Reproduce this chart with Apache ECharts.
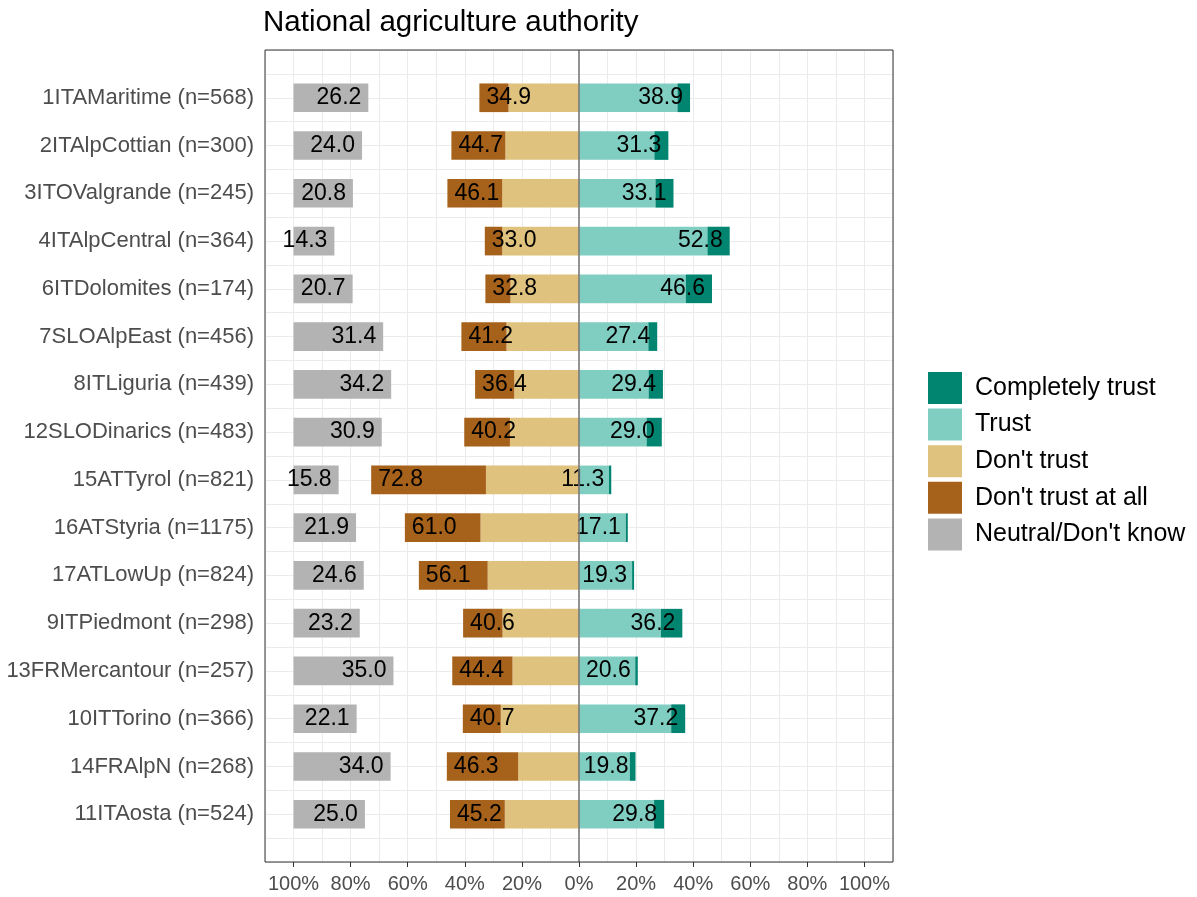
<!DOCTYPE html>
<html>
<head>
<meta charset="utf-8">
<script src="https://cdn.jsdelivr.net/npm/echarts@6/dist/echarts.min.js"></script>
<style>
  html, body { margin: 0; padding: 0; background: #ffffff; }
  #chart { width: 1197px; height: 897px; }
</style>
</head>
<body>
<div id="chart"></div>
<script>
// Regions, top to bottom
const regions = [
  '1ITAMaritime (n=568)', '2ITAlpCottian (n=300)', '3ITOValgrande (n=245)',
  '4ITAlpCentral (n=364)', '6ITDolomites (n=174)', '7SLOAlpEast (n=456)',
  '8ITLiguria (n=439)', '12SLODinarics (n=483)', '15ATTyrol (n=821)',
  '16ATStyria (n=1175)', '17ATLowUp (n=824)', '9ITPiedmont (n=298)',
  '13FRMercantour (n=257)', '10ITTorino (n=366)', '14FRAlpN (n=268)',
  '11ITAosta (n=524)'
];

// Shares in percent per answer category
const completelyTrust = [4.4, 4.9, 6.3, 7.8, 9.2, 3.1, 5.0, 5.3, 0.8, 0.7, 0.7, 7.5, 0.9, 4.9, 2.0, 3.5];
const trust           = [34.5, 26.4, 26.8, 45.0, 37.4, 24.3, 24.4, 23.7, 10.5, 16.4, 18.6, 28.7, 19.7, 32.3, 17.8, 26.3];
const dontTrust       = [24.7, 25.8, 26.9, 26.9, 24.0, 25.4, 22.7, 24.2, 32.6, 34.5, 32.0, 26.8, 23.3, 27.4, 21.3, 26.0];
const dontTrustAtAll  = [10.2, 18.9, 19.2, 6.1, 8.8, 15.8, 13.7, 16.0, 40.2, 26.5, 24.1, 13.8, 21.1, 13.3, 25.0, 19.2];
const neutral         = [26.2, 24.0, 20.8, 14.3, 20.7, 31.4, 34.2, 30.9, 15.8, 21.9, 24.6, 23.2, 35.0, 22.1, 34.0, 25.0];

// Axis ticks (percent, negatives shown without sign)
const xTicks = [-100, -80, -60, -40, -20, 0, 20, 40, 60, 80, 100];

const NEUTRAL_START = -100;
const FONT = "'Liberation Sans', Arial, Helvetica, sans-serif";

const fmt = v => (Math.round(v * 10) / 10).toFixed(1);
const posTotal = trust.map((v, i) => v + completelyTrust[i]);
const negTotal = dontTrust.map((v, i) => v + dontTrustAtAll[i]);

// one empty slot above and below the regions gives the panel its padding
const yCats = [' '].concat(regions, ['  ']);
const pad = arr => [null].concat(arr, [null]);
const padIdx = i => i - 1;

const labelStyle = {
  show: true,
  fontFamily: FONT,
  fontSize: 23,
  color: '#000000',
  distance: 7
};

const chart = echarts.init(document.getElementById('chart'), null, { renderer: 'canvas' });

chart.setOption({
  animation: false,
  backgroundColor: '#ffffff',
  textStyle: { fontFamily: FONT },
  title: {
    text: 'National agriculture authority',
    left: 263,
    top: 8,
    padding: 0,
    textStyle: { fontFamily: FONT, fontSize: 29.5, fontWeight: 'normal', color: '#000000' }
  },
  legend: {
    data: ['Completely trust', 'Trust', "Don't trust", "Don't trust at all", "Neutral/Don't know"],
    orient: 'vertical',
    left: 928,
    top: 372,
    padding: 0,
    itemWidth: 34,
    itemHeight: 32,
    itemGap: 4.6,
    icon: 'rect',
    selectedMode: false,
    textStyle: { fontFamily: FONT, fontSize: 25, color: '#000000', padding: [0, 0, 0, 8] }
  },
  grid: {
    left: 265,
    right: 304,
    top: 50,
    bottom: 35,
    containLabel: false,
    outerBoundsMode: 'none',
    show: true,
    z: 10,
    backgroundColor: 'transparent',
    borderColor: '#333333',
    borderWidth: 1
  },
  xAxis: [
    {
      type: 'value',
      min: -110,
      max: 110,
      interval: 10,
      axisLine: { show: false },
      axisTick: { show: false },
      axisLabel: { show: false },
      splitLine: { show: true, lineStyle: { color: '#ebebeb', width: 1 } }
    },
    {
      type: 'value',
      min: -110,
      max: 110,
      position: 'bottom',
      axisLine: { show: false },
      splitLine: { show: false },
      axisTick: {
        show: true,
        customValues: xTicks,
        length: 5,
        lineStyle: { color: '#333333', width: 1 }
      },
      axisLabel: {
        customValues: xTicks,
        formatter: v => Math.abs(v) + '%',
        fontFamily: FONT,
        fontSize: 20,
        color: '#4d4d4d',
        margin: 12
      }
    }
  ],
  yAxis: [
    {
      type: 'category',
      inverse: true,
      boundaryGap: false,
      data: yCats,
      axisLine: { show: false },
      axisTick: {
        show: true,
        length: 5,
        interval: (idx, val) => val.trim() !== '',
        lineStyle: { color: '#333333', width: 1 }
      },
      axisLabel: {
        interval: 0,
        fontFamily: FONT,
        fontSize: 22,
        color: '#4d4d4d',
        margin: 11
      },
      splitLine: { show: false }
    },
    {
      type: 'value',
      inverse: true,
      min: 0,
      max: 17,
      interval: 0.5,
      axisLine: { show: false },
      axisTick: { show: false },
      axisLabel: { show: false },
      splitLine: { show: true, lineStyle: { color: '#ebebeb', width: 1 } }
    }
  ],
  series: [
    {
      name: 'Trust',
      type: 'bar',
      stack: 'opinion',
      barWidth: '60%',
      barGap: '-100%',
      data: pad(trust),
      itemStyle: { color: '#80cdc1' },
      emphasis: { disabled: true },
      silent: true,
      markLine: {
        silent: true,
        symbol: 'none',
        z: 6,
        label: { show: false },
        lineStyle: { color: '#7a7a7a', width: 1.6, type: 'solid' },
        data: [{ xAxis: 0 }]
      }
    },
    {
      name: 'Completely trust',
      type: 'bar',
      stack: 'opinion',
      barWidth: '60%',
      barGap: '-100%',
      data: pad(completelyTrust),
      itemStyle: { color: '#018571' },
      emphasis: { disabled: true },
      silent: true,
      label: Object.assign({}, labelStyle, {
        position: 'insideRight',
        formatter: p => fmt(posTotal[padIdx(p.dataIndex)])
      })
    },
    {
      name: "Don't trust",
      type: 'bar',
      stack: 'opinion',
      barWidth: '60%',
      barGap: '-100%',
      data: pad(dontTrust.map(v => -v)),
      itemStyle: { color: '#dfc27d' },
      emphasis: { disabled: true },
      silent: true
    },
    {
      name: "Don't trust at all",
      type: 'bar',
      stack: 'opinion',
      barWidth: '60%',
      barGap: '-100%',
      data: pad(dontTrustAtAll.map(v => -v)),
      itemStyle: { color: '#a6611a' },
      emphasis: { disabled: true },
      silent: true,
      label: Object.assign({}, labelStyle, {
        position: 'insideLeft',
        formatter: p => fmt(negTotal[padIdx(p.dataIndex)])
      })
    },
    {
      name: 'neutral-start',
      type: 'bar',
      stack: 'neutral',
      stackStrategy: 'all',
      barWidth: '60%',
      barGap: '-100%',
      data: pad(regions.map(() => NEUTRAL_START)),
      itemStyle: { color: 'rgba(0,0,0,0)' },
      emphasis: { disabled: true },
      silent: true
    },
    {
      name: "Neutral/Don't know",
      type: 'bar',
      stack: 'neutral',
      stackStrategy: 'all',
      barWidth: '60%',
      barGap: '-100%',
      data: pad(neutral),
      itemStyle: { color: '#b3b3b3' },
      emphasis: { disabled: true },
      silent: true,
      label: Object.assign({}, labelStyle, {
        position: 'insideRight',
        formatter: p => fmt(neutral[padIdx(p.dataIndex)])
      })
    }
  ]
});
</script>
</body>
</html>
